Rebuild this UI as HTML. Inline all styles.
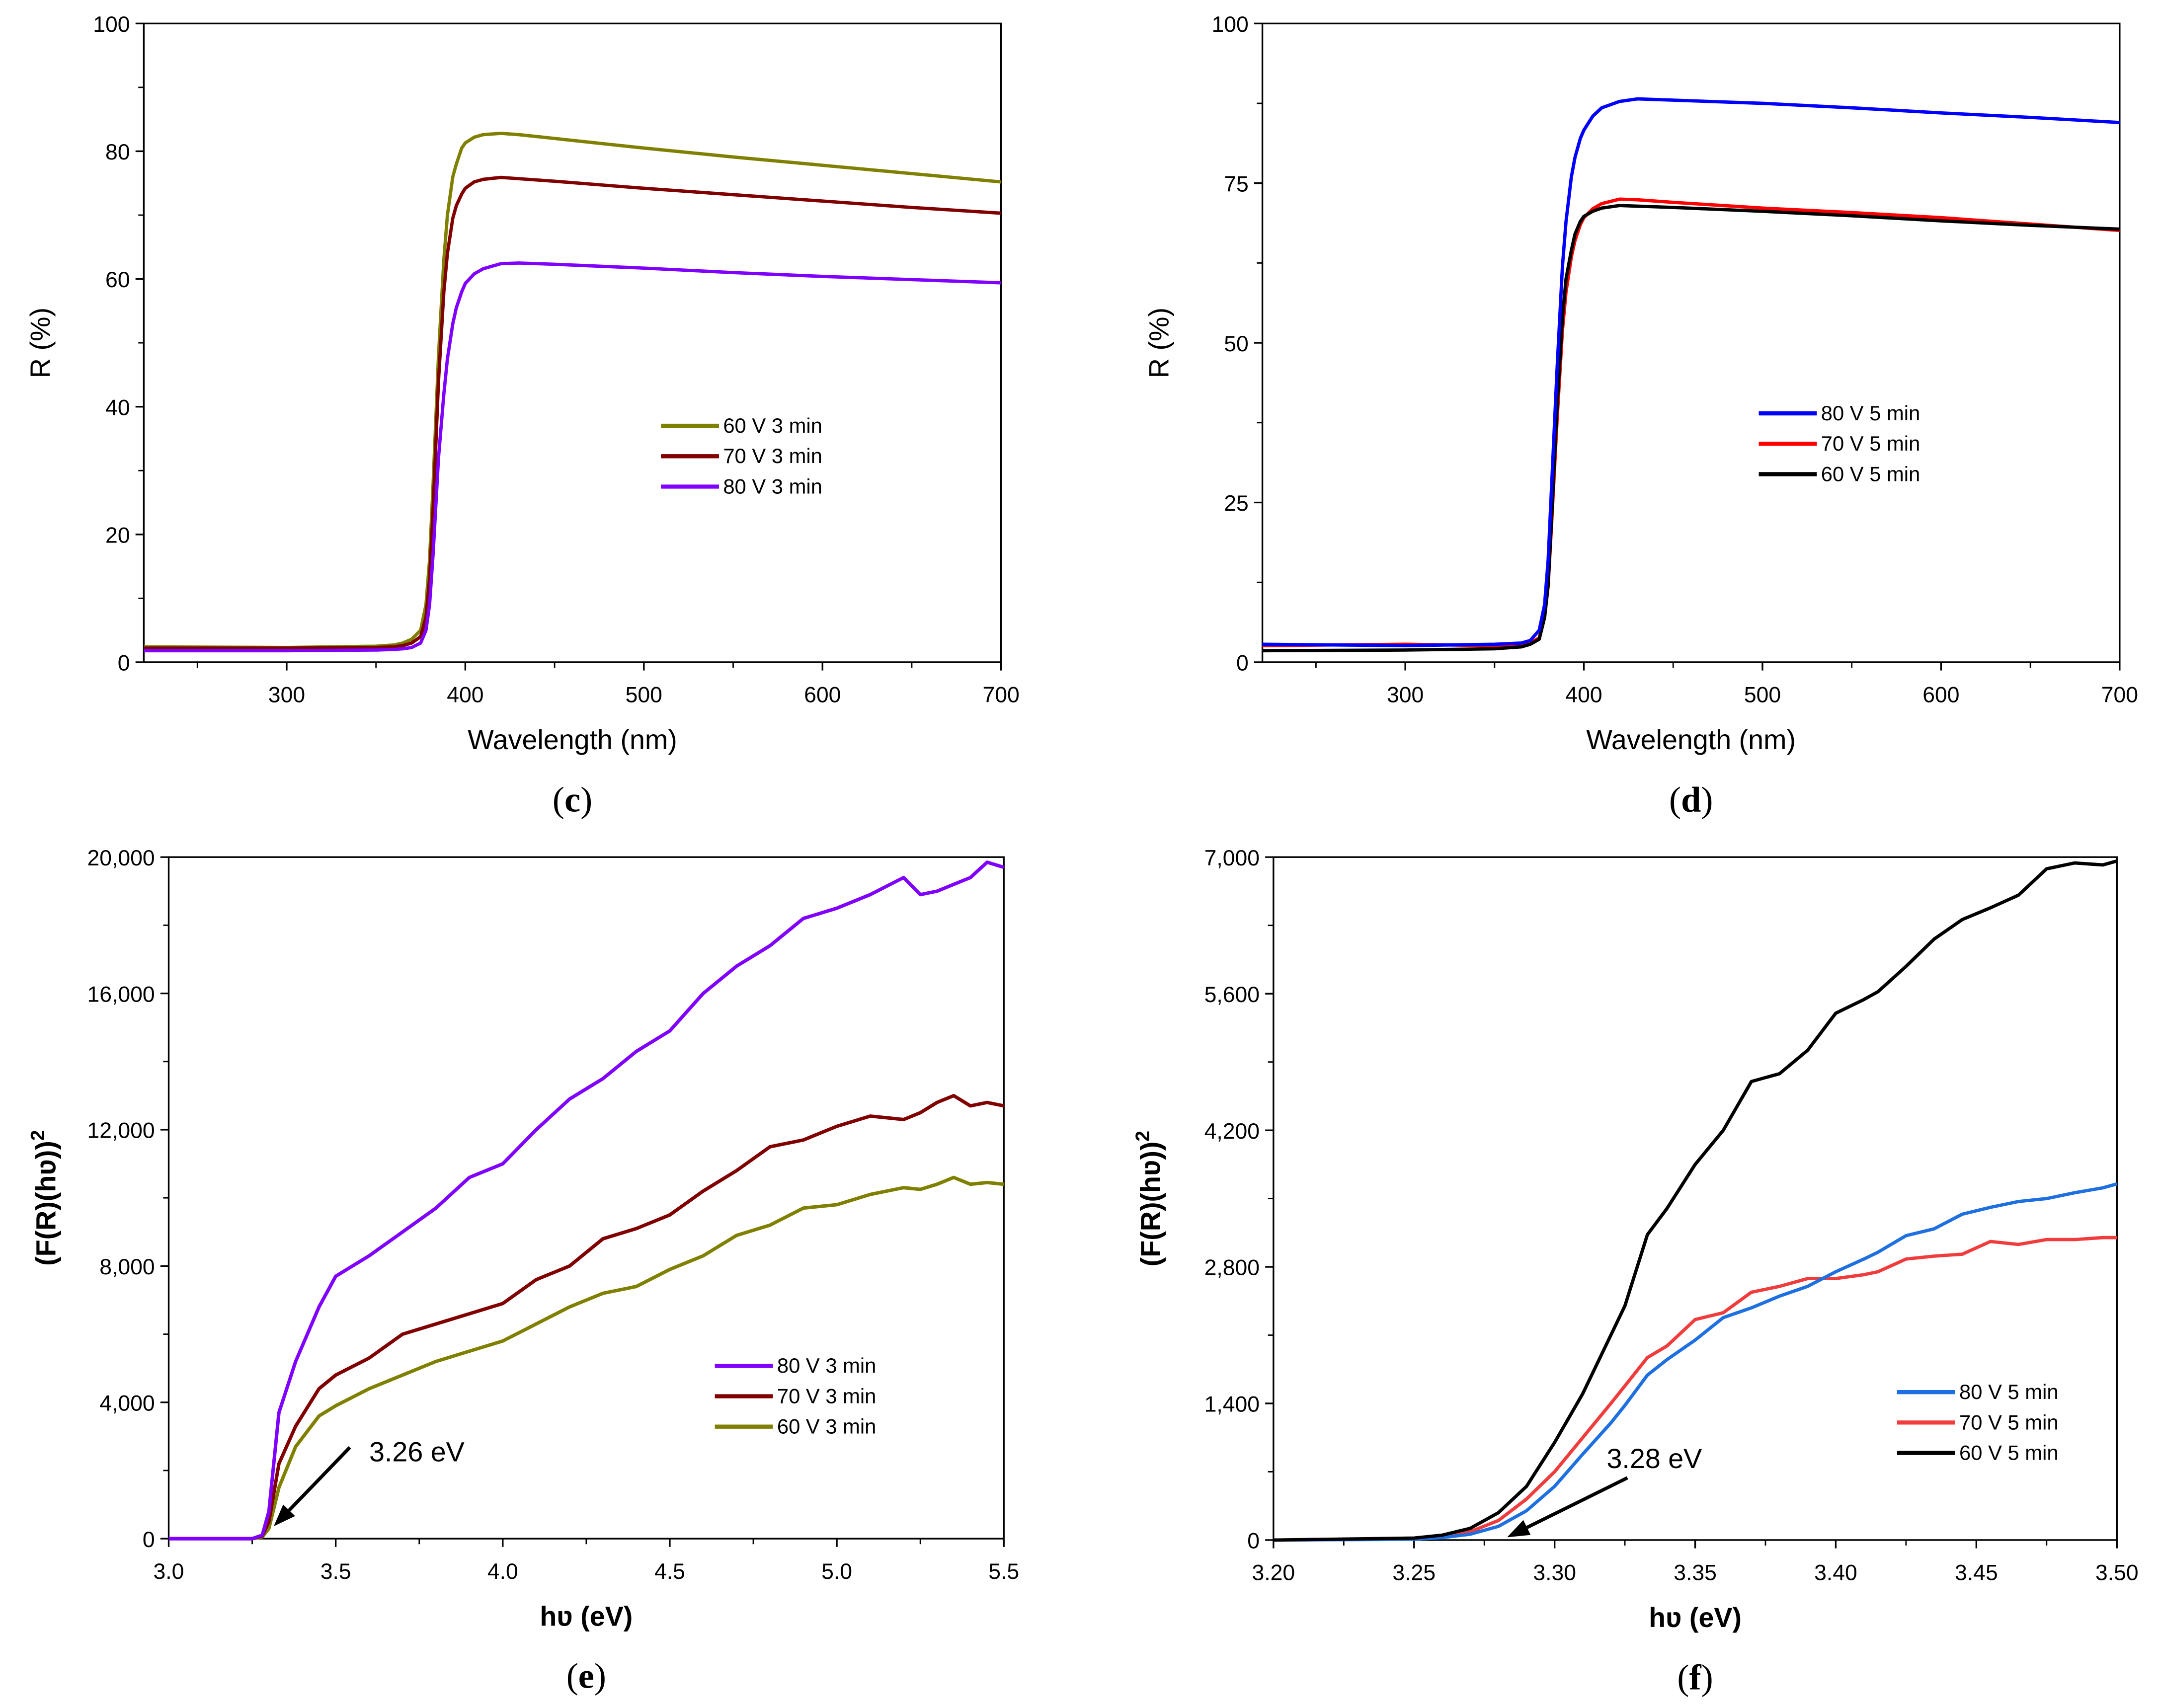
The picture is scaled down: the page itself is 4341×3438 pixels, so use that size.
<!DOCTYPE html>
<html><head><meta charset="utf-8"><style>
html,body{margin:0;padding:0;background:#fff}
svg{display:block}
text{font-family:"Liberation Sans",sans-serif;fill:#000}
</style></head><body>
<svg id="fig" width="4341" height="3438" viewBox="0 0 1560 1235.5" xmlns="http://www.w3.org/2000/svg"></svg>
<script>
// Panel (c)
const cX=[220,300,350,360,365,370,375,378,380,382,385,388,390,393,395,398,400,405,410,420,430,450,500,550,600,650,700];
const c60=[2.4,2.3,2.5,2.7,3,3.6,5,9,16,28,48,63,70,76,78,80.5,81.3,82.2,82.6,82.8,82.6,82,80.5,79.1,77.8,76.5,75.2];
const c70=[2.2,2.2,2.3,2.4,2.6,3,4,7,13,24,44,58,64,69.5,71.5,73.3,74.2,75.2,75.6,75.9,75.7,75.3,74.2,73.2,72.2,71.2,70.3];
const c80=[1.8,1.8,1.9,2,2.1,2.3,3,5,9,17,32,42,47.5,53,55.5,58,59.3,60.8,61.6,62.4,62.5,62.3,61.7,61,60.4,59.9,59.4];
// Panel (d)
const dX=[220,300,350,365,370,375,378,380,382,385,388,390,393,395,398,400,405,410,420,430,450,500,550,600,650,700];
const d80=[2.8,2.6,2.8,3,3.4,5,9,16,28,46,62,69,76,79,82,83.3,85.5,86.8,87.8,88.2,88,87.5,86.8,86,85.3,84.5];
const d70=[2.6,2.8,2.6,2.7,3,3.8,7,12,22,38,52,58,63.5,66,68.5,69.6,71,71.8,72.5,72.4,72,71.1,70.4,69.6,68.6,67.6];
const d60=[1.8,1.9,2.1,2.4,2.8,3.6,7,12,23,40,54,60,64.5,67,69,69.8,70.6,71.1,71.5,71.4,71.2,70.6,69.9,69.1,68.4,67.8];
// Panel (e)
const eX=[3.0,3.25,3.28,3.3,3.33,3.38,3.45,3.5,3.6,3.7,3.8,3.9,4.0,4.1,4.2,4.3,4.4,4.5,4.6,4.7,4.8,4.9,5.0,5.1,5.2,5.25,5.3,5.35,5.4,5.45,5.5];
const e80=[0,0,100,800,3700,5200,6800,7700,8300,9000,9700,10600,11000,12000,12900,13500,14300,14900,16000,16800,17400,18200,18500,18900,19400,18900,19000,19200,19400,19850,19700];
const e70=[0,0,80,500,2200,3300,4400,4800,5300,6000,6300,6600,6900,7600,8000,8800,9100,9500,10200,10800,11500,11700,12100,12400,12300,12500,12800,13000,12700,12800,12700];
const e60=[0,0,50,300,1500,2700,3600,3900,4400,4800,5200,5500,5800,6300,6800,7200,7400,7900,8300,8900,9200,9700,9800,10100,10300,10250,10400,10600,10400,10450,10400];
// Panel (f)
const fX=[3.20,3.25,3.26,3.27,3.28,3.29,3.30,3.31,3.32,3.325,3.333,3.34,3.35,3.36,3.37,3.38,3.39,3.40,3.41,3.415,3.425,3.435,3.445,3.455,3.465,3.475,3.485,3.495,3.50];
const f60=[0,20,50,120,280,550,1000,1500,2100,2400,3130,3400,3850,4200,4700,4780,5020,5400,5540,5620,5880,6160,6360,6480,6610,6880,6940,6920,6960];
const f80=[0,8,25,60,140,300,550,880,1200,1380,1690,1850,2050,2280,2380,2500,2600,2750,2880,2950,3120,3190,3340,3410,3470,3500,3560,3610,3650];
const f70=[0,12,35,85,200,420,700,1050,1400,1580,1870,1990,2260,2330,2540,2600,2680,2680,2720,2750,2880,2910,2930,3060,3030,3080,3080,3100,3100];
const cTicks=[300,400,500,600,700], cYT=[0,20,40,60,80,100];
const dYT=[0,25,50,75,100];
const eXT=[3.0,3.5,4.0,4.5,5.0,5.5], eYT=[0,4000,8000,12000,16000,20000];
const fXT=[3.20,3.25,3.30,3.35,3.40,3.45,3.50], fYT=[0,1400,2800,4200,5600,7000];

const NS='http://www.w3.org/2000/svg';
const svg=document.getElementById('fig');
function mk(tag,attrs,parent){const e=document.createElementNS(NS,tag);for(const k in attrs)e.setAttribute(k,attrs[k]);(parent||svg).appendChild(e);return e;}
function fmt(v,dec,comma){let s=v.toFixed(dec);if(comma)s=s.replace(/\B(?=(\d{3})+(?!\d))/g,',');return s;}

function panel(o){
  const g=mk('g',{});
  
  
  const sx=v=>o.L+(v-o.x0)/(o.x1-o.x0)*(o.R-o.L);
  const sy=v=>o.B-(v-o.y0)/(o.y1-o.y0)*(o.B-o.T);
  const frame=mk('rect',{x:o.L,y:o.T,width:o.R-o.L,height:o.B-o.T,fill:'none',stroke:'#000','stroke-width':1.2},g);
  
  
  o.xt.forEach((v,i)=>{
    const X=sx(v);
    mk('line',{x1:X,x2:X,y1:o.B,y2:o.B+6,stroke:'#000','stroke-width':1.2},g);
    const t=mk('text',{x:X,y:o.B+29,'text-anchor':'middle','font-size':16},g);
    t.textContent=fmt(v,o.xdec,false);
    
    
    if(i<o.xt.length-1){const m=sx((v+o.xt[i+1])/2);mk('line',{x1:m,x2:m,y1:o.B,y2:o.B+4,stroke:'#000','stroke-width':1},g);}
  });
  if(o.xminorBefore){const m=sx(o.xminorBefore);mk('line',{x1:m,x2:m,y1:o.B,y2:o.B+4,stroke:'#000','stroke-width':1},g);}
  o.yt.forEach((v,i)=>{
    const Y=sy(v);
    mk('line',{x1:o.L-6,x2:o.L,y1:Y,y2:Y,stroke:'#000','stroke-width':1.2},g);
    const t=mk('text',{x:o.L-10,y:Y+6,'text-anchor':'end','font-size':16},g);
    t.textContent=fmt(v,0,o.comma);
    
    
    if(i<o.yt.length-1){const m=sy((v+o.yt[i+1])/2);mk('line',{x1:o.L-4,x2:o.L,y1:m,y2:m,stroke:'#000','stroke-width':1},g);}
  });
  const xt=mk('text',{x:(o.L+o.R)/2,y:o.B+63,'text-anchor':'middle','font-size':20,'font-weight':o.bold?'bold':'normal'},g);
  xt.textContent=o.xlabel;
  
  
  const yx=o.L-(o.bold?82:68), yy=(o.T+o.B)/2;
  const yt=mk('text',{x:yx,y:yy,'text-anchor':'middle','font-size':20,'font-weight':o.bold?'bold':'normal',transform:`rotate(-90 ${yx} ${yy})`},g);
  if(o.bold){yt.innerHTML='(F(R)(h\u028B))<tspan dy="-8" font-size="14">2</tspan>';}else yt.textContent=o.ylabel;
  
  
  o.series.forEach(s=>{
    const d=s.y.map((v,i)=>(i?'L':'M')+sx(o.x[i]).toFixed(2)+','+sy(v).toFixed(2)).join(' ');
    const p=mk('path',{d:d,fill:'none',stroke:s.color,'stroke-width':o.sw||2.4,'stroke-linejoin':'round'},g);
    
    
  });
  o.series.slice().sort((a,b)=>a.li-b.li).forEach((s,i)=>{
    const Y=o.legY+i*22;
    const l=mk('line',{x1:o.legX,x2:o.legX+42,y1:Y,y2:Y,stroke:s.color,'stroke-width':3},g);
    
    
    const t=mk('text',{x:o.legX+45,y:Y+5,'font-size':15},g);
    t.textContent=s.label;
    
    
  });
  const lab=mk('text',{x:(o.L+o.R)/2,y:o.B+108,'text-anchor':'middle','font-size':26,style:'font-family:"Liberation Serif",serif'},g);
  lab.innerHTML='(<tspan font-weight="bold">'+o.tag+'</tspan>)';
  
  
  return g;
}
function arrow(x1,y1,x2,y2,label,lx,ly){
  const g=mk('g',{});
  
  
  const ang=Math.atan2(y2-y1,x2-x1),h=16,w=6;
  const bx=x2-h*Math.cos(ang),by=y2-h*Math.sin(ang);
  mk('line',{x1:x1,y1:y1,x2:bx,y2:by,stroke:'#000','stroke-width':2.5},g);
  mk('polygon',{points:`${x2},${y2} ${bx-w*Math.sin(ang)},${by+w*Math.cos(ang)} ${bx+w*Math.sin(ang)},${by-w*Math.cos(ang)}`,fill:'#000'},g);
  const t=mk('text',{x:lx,y:ly,'font-size':20},g);
  t.textContent=label;
}
panel({name:'panel-c',tag:'c',L:104,R:724,T:17,B:479,x0:220,x1:700,y0:0,y1:100,xt:cTicks,yt:cYT,xdec:0,xminorBefore:250,
  xlabel:'Wavelength (nm)',ylabel:'R (%)',x:cX,legX:478,legY:308,
  series:[{y:c60,color:'#808000',label:'60 V 3 min',li:0},{y:c70,color:'#800000',label:'70 V 3 min',li:1},{y:c80,color:'#8000ff',label:'80 V 3 min',li:2}]});
panel({name:'panel-d',tag:'d',L:913,R:1533,T:17,B:479,x0:220,x1:700,y0:0,y1:100,xt:cTicks,yt:dYT,xdec:0,xminorBefore:250,
  xlabel:'Wavelength (nm)',ylabel:'R (%)',x:dX,legX:1272,legY:299,
  series:[{y:d70,color:'#ff0000',label:'70 V 5 min',li:1},{y:d60,color:'#000000',label:'60 V 5 min',li:2},{y:d80,color:'#0000ff',label:'80 V 5 min',li:0}]});
panel({name:'panel-e',tag:'e',L:122,R:726,T:620,B:1113,x0:3.0,x1:5.5,y0:0,y1:20000,xt:eXT,yt:eYT,xdec:1,comma:true,bold:true,
  xlabel:'h\u028B (eV)',x:eX,legX:517,legY:988,sw:2.5,
  series:[{y:e60,color:'#808000',label:'60 V 3 min',li:2},{y:e70,color:'#800000',label:'70 V 3 min',li:1},{y:e80,color:'#8000ff',label:'80 V 3 min',li:0}]});
panel({name:'panel-f',tag:'f',L:921,R:1531,T:620,B:1114,x0:3.20,x1:3.50,y0:0,y1:7000,xt:fXT,yt:fYT,xdec:2,comma:true,bold:true,
  xlabel:'h\u028B (eV)',x:fX,legX:1372,legY:1007,sw:2.4,
  series:[{y:f70,color:'#f03c3c',label:'70 V 5 min',li:1},{y:f80,color:'#1e6fe0',label:'80 V 5 min',li:0},{y:f60,color:'#000000',label:'60 V 5 min',li:2}]});
arrow(253,1047,198,1104,'3.26 eV',267,1057);
arrow(1177,1069,1090,1112,'3.28 eV',1162,1062);
</script>
</body></html>
